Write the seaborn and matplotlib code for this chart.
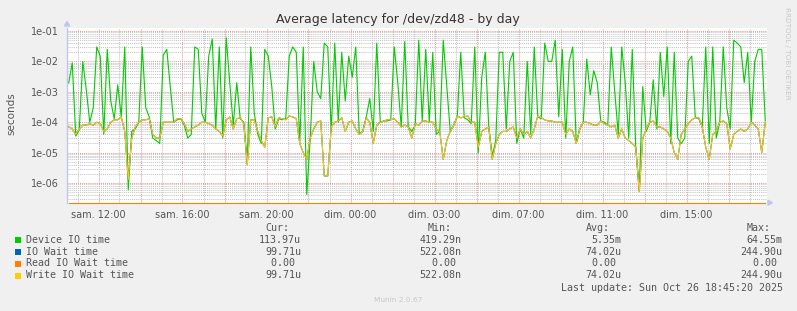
import numpy as np
import pandas as pd
import matplotlib
matplotlib.use("Agg")
import matplotlib.pyplot as plt
import matplotlib.dates as mdates
from matplotlib.ticker import FuncFormatter, LogLocator, NullFormatter
import seaborn as sns

# ---------------- data (10-minute samples) ----------------
device_io_time = [
    2e-3, 9e-3, 3.5e-5, 5.5e-5, 1e-2, 1.2e-3, 1e-4, 3e-4, 3e-2, 1.5e-2,
    4e-5, 2.5e-2, 5e-4, 1.3e-4, 1.7e-3, 1.5e-4, 3e-2, 6e-7, 5e-5, 6e-5,
    1e-4, 3e-2, 3e-4, 1.5e-4, 3e-5, 2.5e-5, 2e-5, 1.6e-2, 2.5e-2, 1.5e-3,
    1e-4, 1.2e-4, 1.3e-4, 8e-5, 3e-5, 4e-5, 3e-2, 2.5e-2, 2e-4, 1e-4,
    1.5e-2, 5.5e-2, 6e-5, 3e-2, 3e-5, 6e-2, 2e-3, 8e-5, 2e-3, 1.3e-4,
    1e-4, 5e-6, 3e-2, 2e-4, 4e-5, 2e-5, 2.5e-2, 1.5e-2, 1.5e-3, 6e-5,
    1.3e-4, 1.2e-4, 1.3e-4, 1.5e-2, 3e-2, 2e-2, 2e-5, 3e-2, 4.2e-7, 3e-5,
    1e-2, 1e-3, 6e-4, 4e-2, 3e-2, 5e-5, 4e-2, 1e-4, 2e-2, 5e-4,
    1.5e-2, 3e-3, 3e-2, 4e-5, 5e-5, 1.5e-4, 6e-4, 5e-5, 4e-2, 1e-4,
    1.1e-4, 1.1e-4, 1.2e-4, 3e-2, 2e-3, 7e-5, 4.5e-2, 7e-5, 5e-5, 8e-5,
    5e-2, 1.1e-4, 2.5e-2, 1e-4, 2e-2, 4e-5, 5e-5, 5e-2, 1.5e-3, 5e-5,
    8e-5, 1.5e-4, 2e-2, 1.4e-4, 1.2e-4, 9e-5, 3e-2, 1e-5, 3e-3, 2e-2,
    7e-5, 8e-6, 2.5e-5, 2e-2, 2e-2, 6e-5, 1e-2, 2e-2, 2e-5, 6e-5,
    3e-5, 1e-2, 4e-5, 3e-2, 1.5e-4, 1.3e-4, 4e-2, 1e-2, 1e-2, 5e-2,
    1.5e-4, 2.5e-2, 3e-5, 1e-2, 3e-2, 2e-5, 6e-5, 1e-4, 1.2e-2, 8e-4,
    5e-3, 2e-3, 1.1e-4, 1e-4, 8e-5, 3e-2, 1e-3, 4e-5, 3e-2, 2e-3,
    3e-5, 2.5e-2, 1.5e-5, 6e-7, 1.5e-3, 5e-5, 1e-4, 2.5e-3, 6e-5, 2e-2,
    7e-4, 3e-2, 2e-5, 2e-2, 3e-5, 2e-5, 3e-5, 1e-2, 1.5e-2, 1.5e-4,
    1.3e-4, 7e-5, 3e-2, 2e-5, 3e-2, 3e-5, 1e-4, 3e-2, 3e-4, 6e-5,
    5e-2, 4e-2, 3e-2, 2e-3, 2e-2, 1e-4, 1e-2, 2.5e-2, 2.5e-2, 1.14e-4,
]

write_io_wait_time = [
    7e-5, 6e-5, 4e-5, 6e-5, 8e-5, 8e-5, 9e-5, 8e-5, 1e-4, 9e-5,
    5e-5, 6e-5, 1e-4, 1.2e-4, 1.2e-4, 1.5e-4, 5e-5, 1.3e-6, 3e-5, 7e-5,
    1e-4, 1.2e-4, 1.2e-4, 1.3e-4, 4e-5, 3e-5, 3e-5, 1e-4, 1e-4, 1e-4,
    1e-4, 1.3e-4, 1.3e-4, 9e-5, 5e-5, 6e-5, 7e-5, 8e-5, 1e-4, 1e-4,
    9e-5, 8e-5, 6e-5, 5e-5, 3.5e-5, 1.2e-4, 1.5e-4, 6e-5, 1.3e-4, 1.4e-4,
    9e-5, 4e-6, 1.2e-4, 1.2e-4, 5e-5, 2.5e-5, 1.5e-5, 1.4e-4, 1.5e-4, 7e-5,
    1.4e-4, 1.3e-4, 1.2e-4, 1.6e-4, 1.5e-4, 1.3e-4, 2e-5, 1e-5, 6e-6, 3e-5,
    6e-5, 1e-4, 1.1e-4, 1.7e-6, 1.7e-6, 7e-5, 1e-4, 1.1e-4, 1.4e-4, 5e-5,
    1e-4, 1.1e-4, 6e-5, 4e-5, 5e-5, 1.4e-4, 1e-4, 2e-5, 8e-5, 1e-4,
    1.1e-4, 1.2e-4, 1.2e-4, 1.3e-4, 1e-4, 7e-5, 8e-5, 7e-5, 3e-5, 9e-5,
    8e-5, 1.1e-4, 1.1e-4, 1e-4, 1e-4, 6e-5, 5e-5, 6e-6, 2.5e-5, 5e-5,
    8e-5, 1.6e-4, 1.4e-4, 1.5e-4, 1.6e-4, 1e-4, 1e-4, 1.5e-5, 5e-5, 6e-5,
    7e-5, 6e-6, 2e-5, 4e-5, 5e-5, 5e-5, 6e-5, 7e-5, 3e-5, 6e-5,
    4e-5, 5e-5, 3e-5, 6e-5, 1.6e-4, 1.4e-4, 1.2e-4, 1.1e-4, 1.1e-4, 1e-4,
    1e-4, 1e-4, 4e-5, 6e-5, 5e-5, 2e-5, 6e-5, 1e-4, 1e-4, 9e-5,
    8e-5, 8e-5, 1.1e-4, 9e-5, 8e-5, 7e-5, 8e-5, 3e-5, 6e-5, 3e-5,
    2.5e-5, 2e-5, 1.5e-5, 5.2e-7, 3e-5, 6e-5, 1e-4, 1.1e-4, 7e-5, 7e-5,
    6e-5, 5e-5, 3e-5, 1e-5, 6e-6, 4e-5, 6e-5, 9e-5, 1.2e-4, 1.4e-4,
    1.4e-4, 7e-5, 1.5e-5, 6e-6, 4e-5, 5e-5, 1e-4, 1.1e-4, 9e-5, 1.3e-5,
    4e-5, 5e-5, 6e-5, 5e-5, 6e-5, 1e-4, 8e-5, 6e-5, 1e-5, 9.971e-5,
]
io_wait_time = list(write_io_wait_time)
read_io_wait_time = [0.0] * len(device_io_time)

series_names = ["Device IO time", "IO Wait time", "Read IO Wait time", "Write IO Wait time"]
series_colors = ["#00CC00", "#0066B3", "#FF8000", "#FFCC00"]
cur_vals = ["113.97u", "99.71u", "0.00 ", "99.71u"]
min_vals = ["419.29n", "522.08n", "0.00 ", "522.08n"]
avg_vals = ["5.35m", "74.02u", "0.00 ", "74.02u"]
max_vals = ["64.55m", "244.90u", "0.00 ", "244.90u"]

title = "Average latency for /dev/zd48 - by day"
last_update = "Last update: Sun Oct 26 18:45:20 2025"
day_names = {5: "sam.", 6: "dim."}

# ---------------- figure ----------------
W, H = 797, 311
fig = plt.figure(figsize=(W / 100, H / 100), dpi=100, facecolor="#F0F0F0")
L, R, T, B = 67, 767, 28.3, 202.7
ax = fig.add_axes([L / W, 1 - B / H, (R - L) / W, (B - T) / H])
ax.set_facecolor("white")

n = len(device_io_time)
start = pd.Timestamp("2025-10-25 08:30:00")  # UTC
step = pd.Timedelta(minutes=10)
times = start + step * (np.arange(n) + 0.5)
ymin, ymax = 2.25e-7, 1.23e-1

series_values = [device_io_time, io_wait_time, read_io_wait_time, write_io_wait_time]
for name, vals, col in zip(series_names, series_values, series_colors):
    v = np.asarray(vals, dtype=float)
    clip = False
    if name == "Read IO Wait time":
        v = np.clip(v, ymin, None)  # zero drawn on the axis floor, like rrdtool
        clip = True
    df = pd.DataFrame({"time": times, "value": v})
    sns.lineplot(data=df, x="time", y="value", ax=ax, color=col, linewidth=0.8,
                 estimator=None, legend=False, clip_on=not clip, zorder=3)

ax.set_yscale("log")
ax.set_ylim(ymin, ymax)
ax.set_xlim(start, start + step * n)
ax.set_xlabel("")
ax.set_ylabel("")

ax.yaxis.set_major_locator(LogLocator(base=10, numticks=20))
ax.yaxis.set_minor_locator(LogLocator(base=10, subs=np.arange(2, 10), numticks=100))
ax.yaxis.set_major_formatter(FuncFormatter(lambda v, p: f"{v:.0e}"))
ax.yaxis.set_minor_formatter(NullFormatter())


def fmt_time(x, pos):
    dt = mdates.num2date(x).replace(tzinfo=None)
    offset = 2 if dt < pd.Timestamp("2025-10-26 01:00:00") else 1
    local = pd.Timestamp(dt) + pd.Timedelta(hours=offset)
    if dt.hour % 4 != 2:
        return ""
    return f"{day_names.get(local.dayofweek, '')} {local:%H:%M}"


ax.xaxis.set_major_locator(mdates.HourLocator(byhour=range(0, 24, 2)))
ax.xaxis.set_minor_locator(mdates.HourLocator())
ax.xaxis.set_major_formatter(FuncFormatter(fmt_time))

ax.grid(which="minor", color="#C4C4C4", linestyle=(0, (1, 1)), linewidth=0.75, zorder=1)
ax.grid(which="major", color="#E89A9A", linestyle=(0, (1, 1)), linewidth=0.75, zorder=2)
ax.set_axisbelow(True)

ax.tick_params(axis="both", which="both", length=0, labelsize=7, colors="#555555")
ax.tick_params(axis="y", pad=6)
ax.tick_params(axis="x", pad=5)

for s in ["top", "right", "bottom"]:
    ax.spines[s].set_visible(False)
ax.spines["left"].set_color("#C0C6F0")
ax.spines["left"].set_linewidth(1)


def fx(x):
    return x / W


def fy(y):
    return 1 - y / H


# axis arrows
fig.patches.append(matplotlib.patches.Polygon(
    [[fx(64.3), fy(26)], [fx(69.7), fy(26)], [fx(67), fy(21.5)]],
    closed=True, transform=fig.transFigure, color="#C0C6F0", zorder=5))
fig.patches.append(matplotlib.patches.Polygon(
    [[fx(768), fy(200.2)], [fx(768), fy(205.2)], [fx(772.5), fy(202.7)]],
    closed=True, transform=fig.transFigure, color="#C0C6F0", zorder=5))

# title and labels
fig.text(fx(398), fy(20), title, ha="center", va="center", fontsize=9, color="#333333")
fig.text(fx(11), fy(114), "seconds", rotation=90, ha="center", va="center",
         fontsize=7.5, color="#555555")
fig.text(fx(787), fy(53), "RRDTOOL / TOBI OETIKER", rotation=270, ha="center",
         va="center", fontsize=5.2, color="#C8C8C8")
fig.text(fx(398), fy(300), "Munin 2.0.67", ha="center", va="center",
         fontsize=5.3, color="#C8C8C8")

# legend block
mono = dict(family="DejaVu Sans Mono", fontsize=7.2, color="#555555", va="center")
fig.text(fx(265.7), fy(227.7), "Cur:", ha="left", **mono)
fig.text(fx(428), fy(227.7), "Min:", ha="left", **mono)
fig.text(fx(586), fy(227.7), "Avg:", ha="left", **mono)
fig.text(fx(746.7), fy(227.7), "Max:", ha="left", **mono)
row_y = [240, 251.8, 263.5, 275.5]
for i, (name, col) in enumerate(zip(series_names, series_colors)):
    y = row_y[i]
    fig.patches.append(matplotlib.patches.Rectangle(
        (fx(14.5), fy(y + 3)), 6 / W, 6 / H, transform=fig.transFigure,
        facecolor=col, edgecolor="none", zorder=5))
    fig.text(fx(26), fy(y), name, ha="left", **mono)
    fig.text(fx(301), fy(y), cur_vals[i], ha="right", **mono)
    fig.text(fx(461.7), fy(y), min_vals[i], ha="right", **mono)
    fig.text(fx(621.7), fy(y), avg_vals[i], ha="right", **mono)
    fig.text(fx(782.7), fy(y), max_vals[i], ha="right", **mono)
fig.text(fx(782.7), fy(287.7), last_update, ha="right", **mono)

fig.savefig("out.png", dpi=100, facecolor=fig.get_facecolor())
